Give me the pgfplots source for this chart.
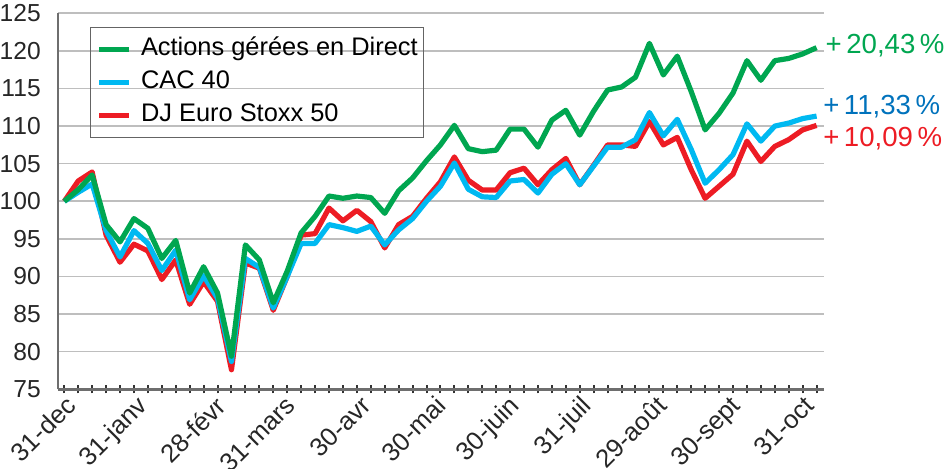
\documentclass[border=0pt]{standalone}
\usepackage{pgfplots}
\pgfplotsset{compat=1.18}
\usepackage{fontspec}
\setmainfont{Liberation Sans}
\usetikzlibrary{calc}
\definecolor{cgreen}{RGB}{0,166,80}
\definecolor{cblue}{RGB}{0,185,241}
\definecolor{cred}{RGB}{237,28,36}
\definecolor{tblue}{RGB}{0,114,188}
\definecolor{axisgrey}{RGB}{110,110,110}
\definecolor{gridgrey}{RGB}{190,190,190}
\definecolor{legendgrey}{RGB}{100,100,100}

\pgfplotstableread{
i v
0 100
1 101.55
2 103.5
3 96.9
4 94.6
5 97.7
6 96.4
7 92.4
8 94.8
9 87.8
10 91.3
11 87.8
12 79.4
13 94.2
14 92.2
15 86.5
16 90.7
17 95.8
18 98.0
19 100.7
20 100.4
21 100.7
22 100.5
23 98.4
24 101.4
25 103.1
26 105.4
27 107.5
28 110.1
29 107.0
30 106.6
31 106.8
32 109.6
33 109.6
34 107.2
35 110.8
36 112.1
37 108.8
38 112.0
39 114.8
40 115.2
41 116.5
42 121.0
43 116.8
44 119.3
45 114.6
46 109.5
47 111.7
48 114.4
49 118.7
50 116.1
51 118.7
52 119.0
53 119.6
54 120.43
}\greendata

\pgfplotstableread{
i v
0 100
1 101.2
2 102.3
3 96.1
4 92.6
5 96.1
6 94.4
7 90.8
8 93.5
9 86.9
10 90.1
11 87.1
12 78.7
13 92.4
14 91.2
15 85.8
16 90.0
17 94.4
18 94.4
19 96.9
20 96.5
21 96.0
22 96.7
23 94.2
24 96.2
25 97.7
26 100.0
27 102.0
28 105.1
29 101.6
30 100.6
31 100.5
32 102.7
33 102.9
34 101.1
35 103.6
36 105.0
37 102.2
38 104.7
39 107.2
40 107.2
41 108.2
42 111.8
43 108.7
44 110.9
45 106.9
46 102.4
47 104.2
48 106.2
49 110.3
50 108.0
51 110.0
52 110.4
53 111.0
54 111.33
}\bluedata

\pgfplotstableread{
i v
0 100
1 102.7
2 103.9
3 95.5
4 91.9
5 94.3
6 93.4
7 89.6
8 92.2
9 86.3
10 89.3
11 86.7
12 77.6
13 91.8
14 91.1
15 85.5
16 90.0
17 95.5
18 95.7
19 99.1
20 97.4
21 98.8
22 97.3
23 93.8
24 96.9
25 98.0
26 100.4
27 102.6
28 105.9
29 102.8
30 101.5
31 101.5
32 103.8
33 104.4
34 102.2
35 104.2
36 105.7
37 102.2
38 104.8
39 107.5
40 107.5
41 107.3
42 110.6
43 107.5
44 108.5
45 104.2
46 100.4
47 102.0
48 103.6
49 108.0
50 105.3
51 107.3
52 108.2
53 109.5
54 110.09
}\reddata

\begin{document}
\begin{tikzpicture}
\begin{axis}[
  scale only axis,
  width=382.9pt, height=188pt,
  xmin=-0.43, xmax=54.54, ymin=75, ymax=125,
  axis x line=bottom, axis y line=left,
  axis line style={-},
  x axis line style={draw=axisgrey, line width=1.5pt},
  y axis line style={draw=axisgrey, line width=1pt},
  xtick={0,...,54}, xticklabels={},
  major tick length=4.2pt,
  x tick style={draw=black!80, line width=1pt},
  ytick={75,80,...,125},
  y tick style={draw=none},
  ymajorgrids,
  grid style={draw=gridgrey, line width=0.8pt},
  tick label style={font=\fontsize{12.3}{14}\selectfont, text=black!85},
  /pgf/number format/assume math mode=true,
  yticklabel style={inner sep=0pt, xshift=-6.5pt},
  extra x ticks={0.89,6.0,11.7,16.7,22.1,27.5,32.7,37.9,43.3,48.6,53.9},
  extra x tick labels={31-dec,31-janv,28-févr,31-mars,30-avr,30-mai,30-juin,31-juil,29-août,30-sept,31-oct},
  extra x tick style={major tick length=0pt, grid=none,
     xticklabel style={xshift=-6.3pt, yshift=-2.4pt, rotate=45, anchor=north east, inner sep=0pt, font=\fontsize{12.8}{14}\selectfont}},
  clip=false,
  reverse legend,
  legend image code/.code={\draw[#1] (0pt,0pt) -- (15pt,0pt);},
  legend style={at={(0.0414,0.9644)}, anchor=north west,
     draw=legendgrey, line width=0.6pt, fill=none,
     font=\fontsize{12.7}{15}\selectfont,
     inner xsep=3pt, inner ysep=5pt, row sep=4.5pt,
     nodes={inner sep=0pt, text height=9.3pt, text depth=2.7pt},
     /tikz/every odd column/.append style={column sep=4.6pt}},
  legend cell align=left,
]
\addplot[cred, line width=2.6pt, line join=round] table[x=i,y=v] {\reddata};
\addlegendentry{DJ Euro Stoxx 50}
\addplot[cblue, line width=2.6pt, line join=round] table[x=i,y=v] {\bluedata};
\addlegendentry{CAC 40}
\addplot[cgreen, line width=2.6pt, line join=round] table[x=i,y=v] {\greendata};
\addlegendentry{Actions gérées en Direct}

\node[anchor=base west, inner sep=0pt, text=cgreen, font=\fontsize{13.8}{16}\selectfont] at (axis cs:54.62,119.68) {+\,20,43\,\%};
\node[anchor=base west, inner sep=0pt, text=tblue, font=\fontsize{13.8}{16}\selectfont] at (axis cs:54.45,111.48) {+\,11,33\,\%};
\node[anchor=base west, inner sep=0pt, text=cred, font=\fontsize{13.8}{16}\selectfont] at (axis cs:54.45,107.26) {+\,10,09\,\%};
\end{axis}
\pgfresetboundingbox
\path[use as bounding box] ($(current axis.south west)+(-29.15pt,-39.85pt)$) rectangle ++(475.5pt,234.5pt);
\end{tikzpicture}
\end{document}
